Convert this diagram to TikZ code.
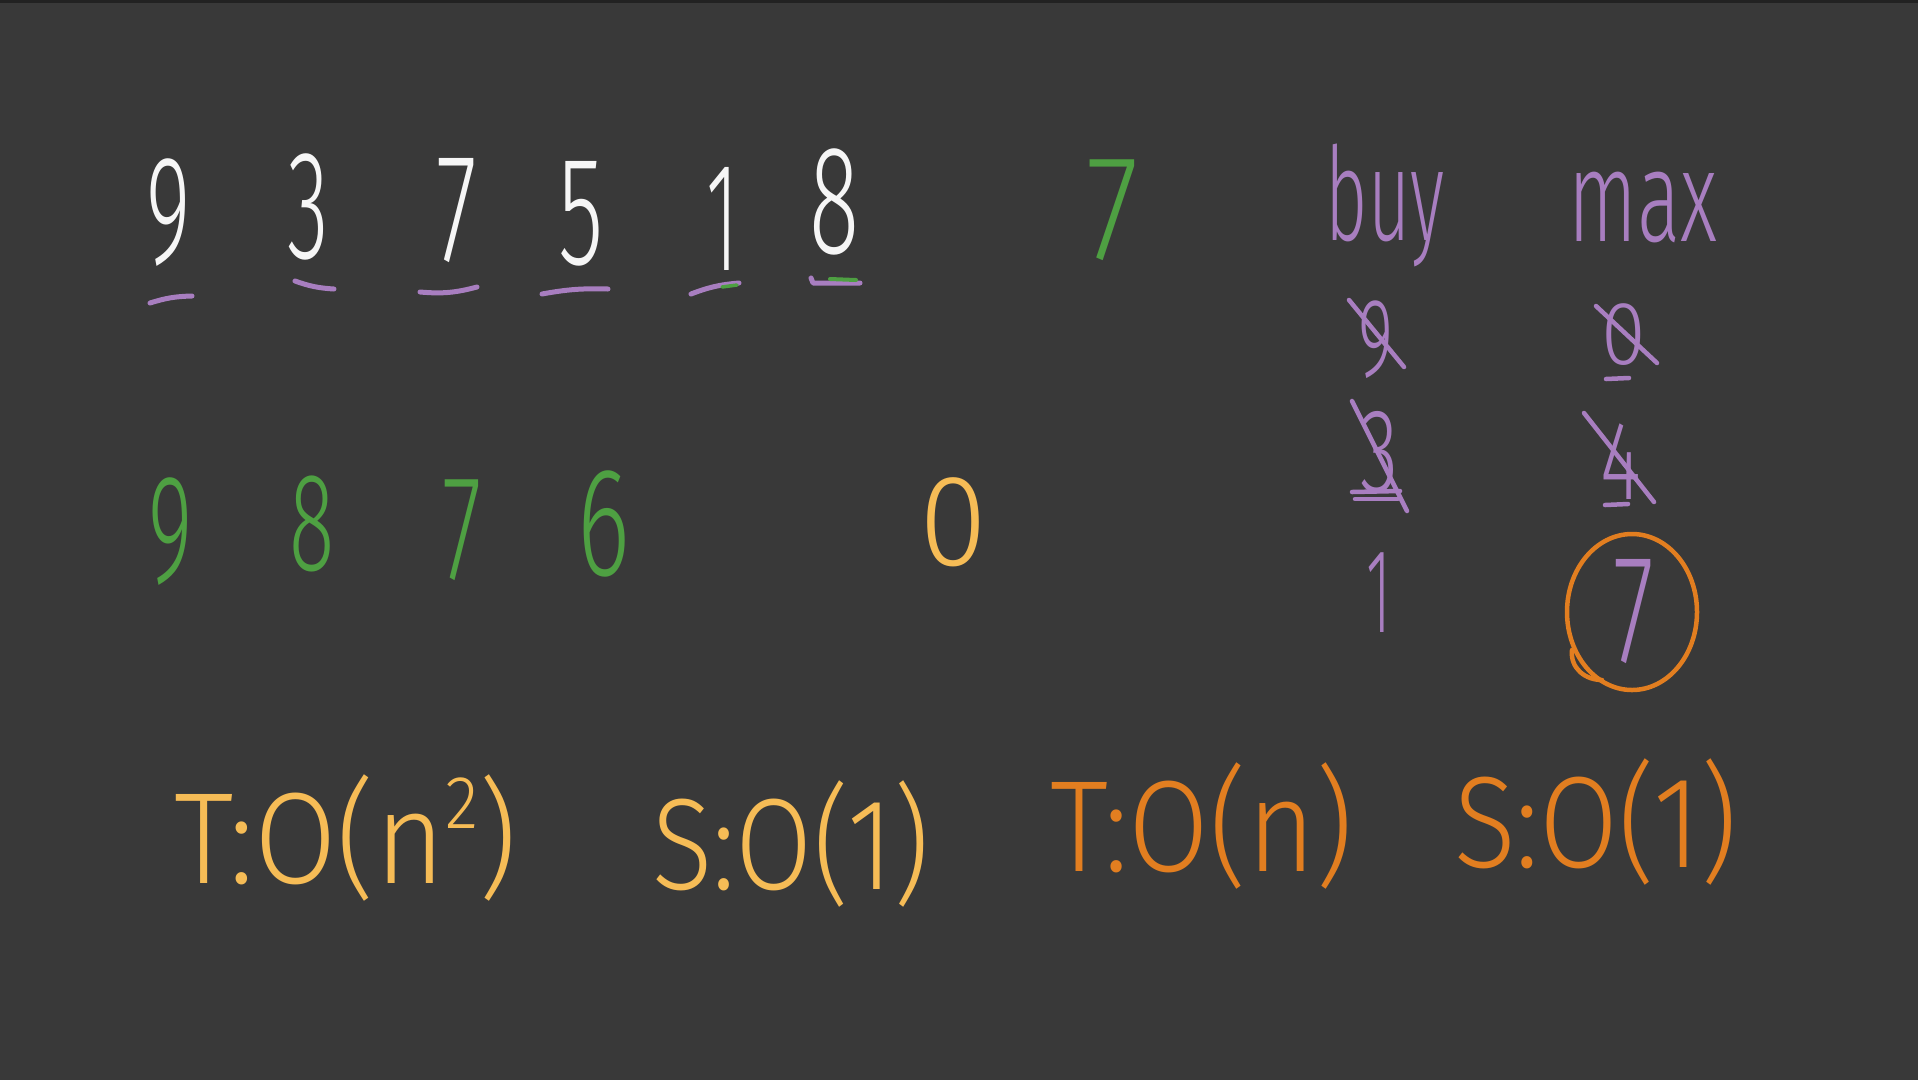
\documentclass[tikz,border=0pt]{standalone}
\usepackage{fontspec}
\setmainfont{Fira Sans Light}
\usepackage{graphicx}
\definecolor{bgc}{RGB}{57,57,57}
\definecolor{topc}{RGB}{34,34,34}
\definecolor{wht}{RGB}{246,246,246}
\definecolor{prp}{RGB}{168,126,192}
\definecolor{grn}{RGB}{78,160,66}
\definecolor{ylw}{RGB}{246,188,86}
\definecolor{org}{RGB}{226,126,32}
\newcommand\hw[3]{\scalebox{#1}[1]{\fontsize{#2}{#2}\selectfont #3}}
\newcommand\supr[1]{\raisebox{0.42em}{\fontsize{75}{75}\selectfont #1}}
\begin{document}
\begin{tikzpicture}[x=1pt,y=1pt,
  lbl/.style={inner sep=0pt, outer sep=0pt},
  pen/.style={line width=5pt, line cap=round, line join=round},
  ul/.style={pen, prp},
  strk/.style={pen, prp, line width=4.5pt}]
\fill[bgc] (0,0) rectangle (1918,-1080);
\fill[topc] (0,0) rectangle (1918,-3);
\useasboundingbox (0,0) rectangle (1918,-1080);

% top row (white)
\node[lbl, text=wht] (a9) at (169,-213) {\hw{.55}{155}{9}};
\node[lbl, text=wht] (a3) at (308,-207) {\hw{.55}{155}{3}};
\node[lbl, text=wht] (a7) at (457,-211) {\hw{.6}{155}{7}};
\node[lbl, text=wht] (a5) at (581,-214) {\hw{.6}{155}{5}};
\node[lbl, text=wht] (a1) at (722,-219) {\hw{.5}{155}{1}};
\node[lbl, text=wht] (a8) at (835,-202) {\hw{.6}{155}{8}};

% purple underlines
\draw[ul] (150,-303) to[bend left=8] (192,-296);
\draw[ul] (295,-281) to[bend right=8] (334,-289);
\draw[ul] (420,-292) to[bend right=10] (477,-287);
\draw[ul] (542,-294) to[bend left=6] (608,-289);
\draw[ul] (691,-294) to[bend left=8] (739,-283);
\draw[ul] (811,-278) -- (813,-283) -- (860,-283);
\draw[pen, grn, line width=4pt] (830,-279) -- (856,-280);
\draw[pen, grn, line width=3.5pt] (722,-287) -- (737,-285);

% green 7
\node[lbl, text=grn] (g7top) at (1113,-210) {\hw{.8}{150}{7}};

% second row
\node[lbl, text=grn] (g9) at (171,-532) {\hw{.55}{155}{9}};
\node[lbl, text=grn] (g8) at (312,-524) {\hw{.6}{140}{8}};
\node[lbl, text=grn] (g7) at (462,-530) {\hw{.6}{150}{7}};
\node[lbl, text=grn] (g6) at (604,-524) {\hw{.65}{155}{6}};
\node[lbl, text=ylw] (y0) at (953,-522) {\hw{.95}{130}{0}};

% buy / max
\node[lbl, text=prp] (buy) at (1385,-205) {\hw{.56}{130}{buy}};
\node[lbl, text=prp] (max) at (1643,-207) {\hw{.62}{130}{max}};

\node[lbl, text=prp] (b9) at (1376,-340) {\hw{.6}{112}{9}};
\node[lbl, text=prp] (b3) at (1379,-453) {\hw{.65}{120}{3}};
\node[lbl, text=prp] (b1) at (1379,-593) {\hw{.5}{120}{1}};
\node[lbl, text=prp] (m0) at (1624,-335) {\hw{.9}{90}{0}};
\node[lbl, text=prp] (m4) at (1621,-462) {\hw{.7}{112}{4}};
\node[lbl, text=prp] (m7) at (1634,-612) {\hw{.6}{155}{7}};

% strikes
\draw[strk] (1349,-300) -- (1404,-367);
\draw[strk] (1352,-401) -- (1407,-511);
\draw[strk] (1352,-492) -- (1400,-491);
\draw[strk] (1355,-499) -- (1398,-499);
\draw[strk] (1596,-306) -- (1657,-363);
\draw[strk] (1606,-379) -- (1629,-378);
\draw[strk] (1584,-413) -- (1654,-502);
\draw[strk] (1605,-505) -- (1628,-504);

% circle round the 7
\draw[pen, org, line width=4.5pt] (1632,-612) ellipse [x radius=65, y radius=78];
\draw[pen, org, line width=4.5pt] (1572,-650) .. controls (1570,-668) and (1585,-680) .. (1602,-680);

% complexities
\node[lbl, text=ylw] (t1) at (346,-838) {\hw{.92}{130}{T:O(n\supr{2})}};
\node[lbl, text=ylw] (s1) at (791,-844) {\hw{.86}{130}{S:O(1)}};
\node[lbl, text=org] (t2) at (1202,-826) {\hw{.9}{130}{T:O(n)}};
\node[lbl, text=org] (s2) at (1596,-822) {\hw{.88}{130}{S:O(1)}};
\end{tikzpicture}
\end{document}
